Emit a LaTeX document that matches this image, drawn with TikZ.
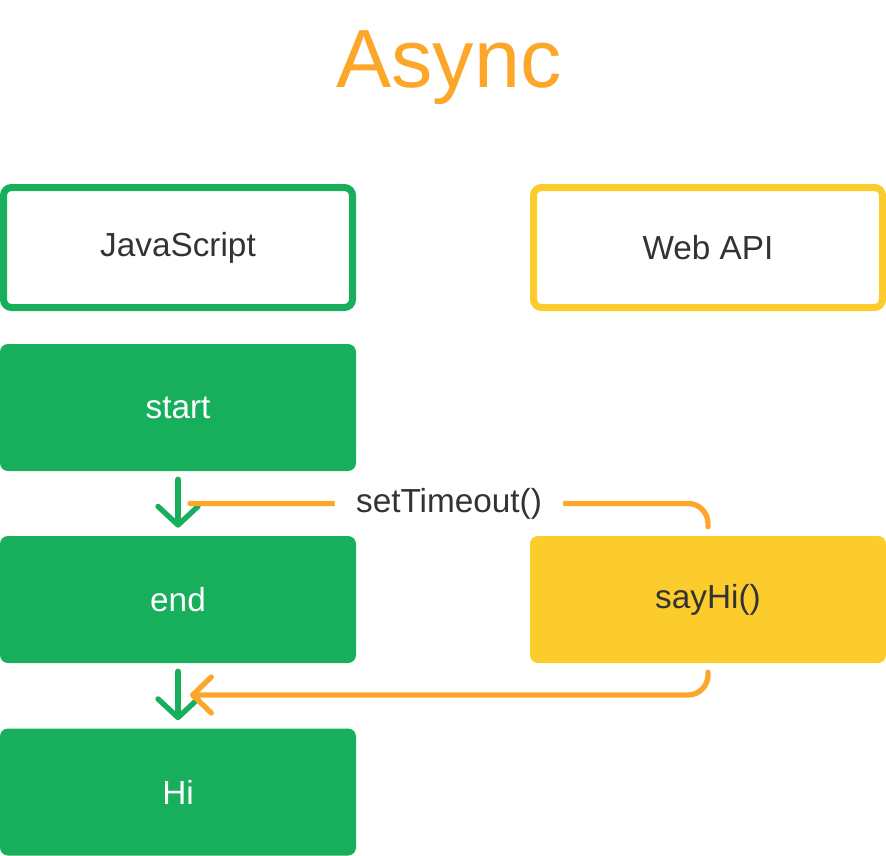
\documentclass[tikz,border=0pt]{standalone}
\usepackage{fontspec}
\setmainfont{Liberation Sans}
\usetikzlibrary{arrows.meta}
\definecolor{jsgreen}{RGB}{23,174,92}
\definecolor{apiyellow}{RGB}{252,204,44}
\definecolor{asyncorange}{RGB}{252,166,42}
\definecolor{textgray}{RGB}{51,51,51}
\tikzset{
	label text/.style = {font=\fontsize{25}{30}\selectfont, text=textgray},
	frame box/.style = {draw=#1, line width=5.25pt, rounded corners=6pt, minimum width=261.75pt, minimum height=90pt, label text},
	task box/.style = {fill=#1, rounded corners=6pt, minimum width=267pt, minimum height=95.25pt, label text},
	flow arrow/.style = {jsgreen, line width=4pt, line cap=round, -{Straight Barb[length=14pt,width=30pt,round]}, shorten <=6pt, shorten >=6pt},
	call line/.style = {asyncorange, line width=4pt, line cap=round, rounded corners=15pt, shorten <=6.75pt}
}
\begin{document}
\begin{tikzpicture} [x = 0.75pt, y = -0.75pt]
	\useasboundingbox (0,0) rectangle (886,856);
	\node [anchor = base, text = asyncorange, font = \fontsize{62}{74}\selectfont] (title) at (449,88) {Async};
	% the two sides
	\node [frame box = jsgreen] (js) at (178,247.5) {JavaScript};
	\node [frame box = apiyellow] (webapi) at (708,247.5) {Web API};
	% call stack
	\node [task box = jsgreen, text = white] (start) at (178,407.5) {start};
	\node [task box = jsgreen, text = white] (end) at (178,599.5) {end};
	\node [task box = jsgreen, text = white] (hi) at (178,792) {Hi};
	\node [task box = apiyellow] (sayhi) at (708,599.5) {sayHi()};
	\draw [flow arrow] (start.south) -- (end.north);
	\draw [flow arrow] (end.south) -- (hi.north);
	% timer goes out and comes back
	\coordinate (tcall) at (190,503.5);
	\coordinate (tback) at (190,695);
	\draw [call line] (sayhi.north) |- (tcall) node [pos = 0.75, fill = white, inner xsep = 16pt, label text] (timeout) {setTimeout()};
	\draw [call line, -{Straight Barb[length=14pt,width=27pt,round]}] (sayhi.south) |- (tback);
	%\draw [gray] (0,0) rectangle (886,856);
\end{tikzpicture}
\end{document}
